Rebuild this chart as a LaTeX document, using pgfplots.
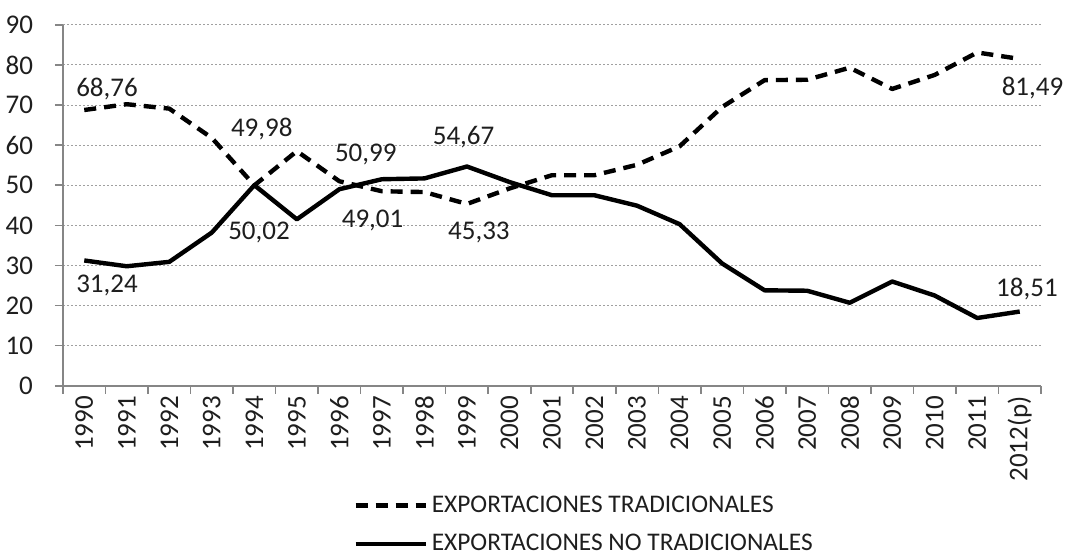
\documentclass[border=0pt]{standalone}
\usepackage{fontspec}
\setmainfont{Carlito}
\usepackage{pgfplots}
\pgfplotsset{compat=1.18}
\usetikzlibrary{calc}
\definecolor{axgray}{RGB}{134,134,134}
\definecolor{gridgray}{RGB}{160,160,160}
\definecolor{txt}{RGB}{30,30,30}
\newcommand\tkfont{\fontsize{13.5}{16}\selectfont}
\newcommand\lgfont{\fontsize{12.7}{15}\selectfont}

\begin{document}
\begin{tikzpicture}
\begin{axis}[
    name=ax,
    at={(0,0)}, anchor=south west,
    scale only axis, width=489pt, height=180.5pt,
    xmin=-0.5, xmax=22.5, ymin=0, ymax=90,
    axis x line*=bottom, axis y line*=left,
    axis line style={axgray, line width=0.8pt},
    xtick={0,...,22},
    xticklabels={1990,1991,1992,1993,1994,1995,1996,1997,1998,1999,2000,2001,2002,2003,2004,2005,2006,2007,2008,2009,2010,2011,2012(p)},
    major x tick style={draw=none},
    minor xtick={-0.5,0.5,...,22.5},
    minor x tick style={axgray, line width=0.8pt},
    ytick={0,10,...,90},
    y tick style={axgray, line width=0.8pt},
    tick align=outside,
    major tick length=4pt, minor tick length=4pt,
    ymajorgrids,
    grid style={gridgray, dash pattern=on 1pt off 1pt, line width=0.5pt},
    /pgf/number format/assume math mode=true,
    tick label style={font=\tkfont, text=txt},
    x tick label style={rotate=90, anchor=east, inner sep=1pt},
    y tick label style={xshift=-7.5pt},
    clip=false,
    legend style={at={(0.2965,-0.292)}, anchor=north west, draw=none, fill=none,
        font=\lgfont, text=txt, legend cell align=left, row sep=5.5pt, inner sep=0pt},
    legend image code/.code={\draw[#1] (0pt,0pt) -- (35pt,0pt);},
]
\addplot[black, line width=2.2pt, dash pattern=on 6pt off 4pt, line join=round] coordinates {
    (0,68.76) (1,70.2) (2,69.1) (3,61.8) (4,49.98) (5,58.5) (6,50.99) (7,48.5)
    (8,48.3) (9,45.33) (10,49.2) (11,52.5) (12,52.5) (13,55.1) (14,59.7) (15,69.5)
    (16,76.2) (17,76.3) (18,79.3) (19,74.0) (20,77.5) (21,83.1) (22,81.49)
};
\addlegendentry{EXPORTACIONES TRADICIONALES}
\addplot[black, line width=2.2pt, line join=round] coordinates {
    (0,31.24) (1,29.8) (2,30.9) (3,38.2) (4,50.02) (5,41.5) (6,49.01) (7,51.5)
    (8,51.7) (9,54.67) (10,50.8) (11,47.5) (12,47.5) (13,44.9) (14,40.3) (15,30.5)
    (16,23.8) (17,23.7) (18,20.7) (19,26.0) (20,22.5) (21,16.9) (22,18.51)
};
\addlegendentry{EXPORTACIONES NO TRADICIONALES}

% data labels
\node[font=\tkfont, text=txt] at (axis cs:0.535,74.1) {68,76};
\node[font=\tkfont, text=txt] at (axis cs:0.535,24.9) {31,24};
\node[font=\tkfont, text=txt] at (axis cs:4.175,64.0) {49,98};
\node[font=\tkfont, text=txt] at (axis cs:4.11,38.2) {50,02};
\node[font=\tkfont, text=txt] at (axis cs:6.62,57.6) {50,99};
\node[font=\tkfont, text=txt] at (axis cs:6.78,41.1) {49,01};
\node[font=\tkfont, text=txt] at (axis cs:8.92,61.9) {54,67};
\node[font=\tkfont, text=txt] at (axis cs:9.28,38.2) {45,33};
\node[font=\tkfont, text=txt] at (axis cs:22.3,74.3) {81,49};
\node[font=\tkfont, text=txt] at (axis cs:22.17,24.2) {18,51};
\end{axis}
\pgfresetboundingbox
\path[use as bounding box] ($(ax.south west)+(-31.5pt,-86.15pt)$) rectangle ($(ax.north east)+(12.5pt,12.4pt)$);
\end{tikzpicture}
\end{document}
